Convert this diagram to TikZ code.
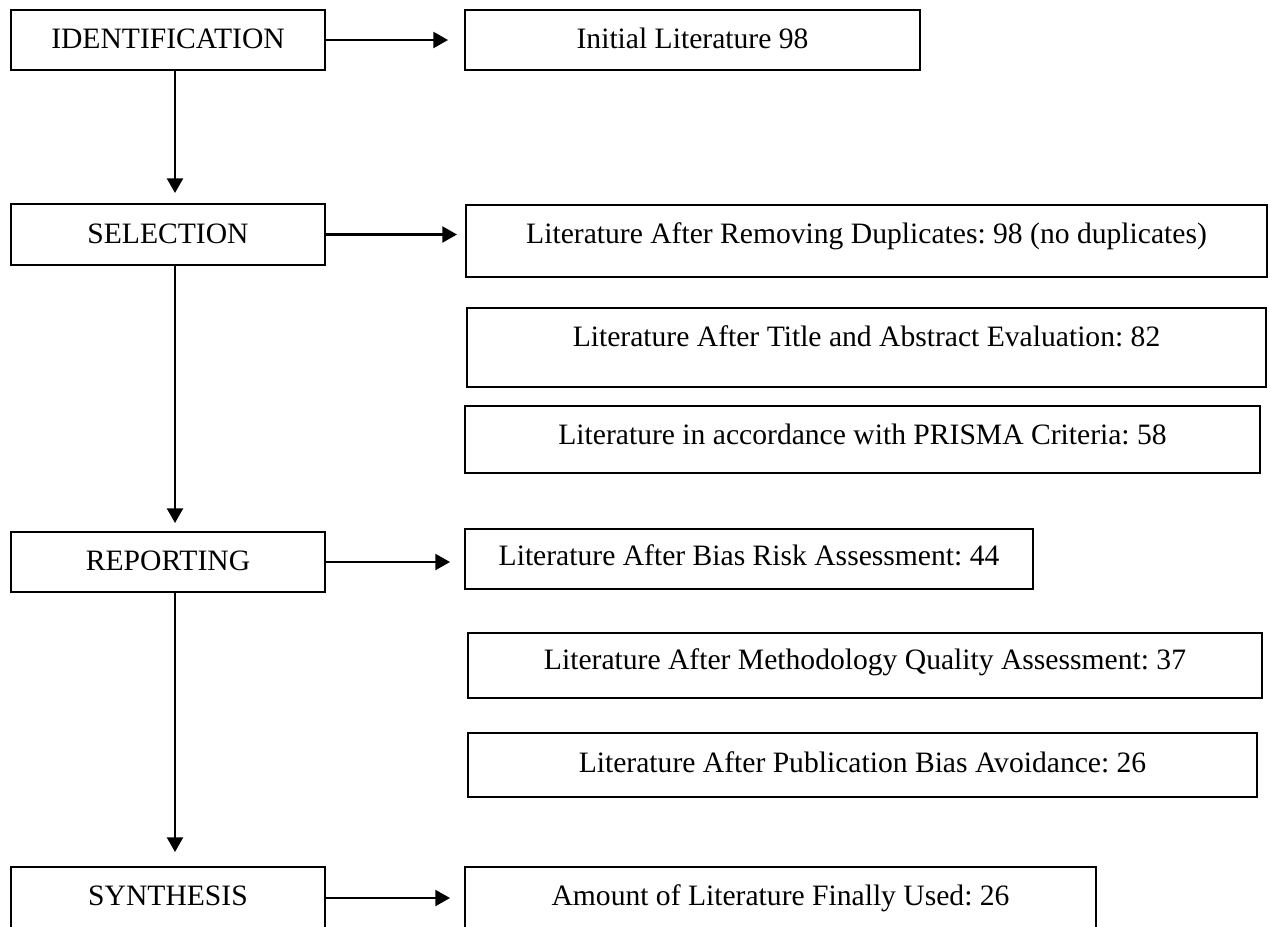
\documentclass[tikz,border=0pt]{standalone}
\usepackage{fontspec}
\setmainfont{Liberation Serif}
\usetikzlibrary{arrows.meta}
\frenchspacing
\tikzset{
  box/.style={draw=black, line width=1.9pt, inner sep=0pt, outer sep=0pt, anchor=base,
    font=\fontsize{22.2pt}{26pt}\selectfont, align=center},
  arr/.style={draw=black, line width=1.7pt, -{Triangle[length=11pt,width=12pt]}}
}
\begin{document}
\begin{tikzpicture}[x=0.75pt, y=-0.75pt]
\useasboundingbox (0,0) rectangle (1270,926);
\clip (0,0) rectangle (1270,926);
\coordinate (vx) at (175,0);
% left column
\node[box, minimum width=235.5pt, text height=28.5pt, text depth=16.5pt] (ID) at (168,48) {IDENTIFICATION};
\node[box, minimum width=235.5pt, text height=29.25pt, text depth=16.5pt] (SEL) at (168,243) {SELECTION};
\node[box, minimum width=235.5pt, text height=28.5pt, text depth=16.5pt] (REP) at (168,570) {REPORTING};
\node[box, minimum width=235.5pt, text height=28.5pt, text depth=18pt] (SYN) at (168,905) {SYNTHESIS};
% right column
\node[box, minimum width=341.25pt, text height=28.5pt, text depth=16.5pt] (INIT) at (692.5,48) {Initial Literature 98};
\node[box, minimum width=600.75pt, text height=28.5pt, text depth=25.5pt] (DUP) at (866.5,243) {Literature After Removing Duplicates: 98 (no duplicates)};
\node[box, minimum width=599.25pt, text height=28.5pt, text depth=30.75pt] (TITLE) at (866.5,346) {Literature After Title and Abstract Evaluation: 82};
\node[box, minimum width=596.25pt, text height=28.5pt, text depth=21.75pt] (PRISMA) at (862.5,444) {Literature in accordance with PRISMA Criteria: 58};
\node[box, minimum width=426pt, text height=27pt, text depth=18pt] (BIAS) at (749,565) {Literature After Bias Risk Assessment: 44};
\node[box, minimum width=595.5pt, text height=27pt, text depth=21.75pt] (METH) at (865,669) {Literature After Methodology Quality Assessment: 37};
\node[box, minimum width=591.75pt, text height=29.25pt, text depth=18.75pt] (PUB) at (862.5,772) {Literature After Publication Bias Avoidance: 26};
\node[box, minimum width=473.25pt, text height=28.5pt, text depth=18pt] (AMT) at (780.5,905) {Amount of Literature Finally Used: 26};
% vertical arrows
\draw[arr, shorten >=8.25pt] (ID.south -| vx) -- (SEL.north -| vx);
\draw[arr, shorten >=6.75pt] (SEL.south -| vx) -- (REP.north -| vx);
\draw[arr, shorten >=11.25pt] (REP.south -| vx) -- (SYN.north -| vx);
% horizontal arrows
\draw[arr, shorten >=12.75pt] (ID.east) -- (ID.east -| INIT.west);
\draw[arr, shorten >=6.75pt] (SEL.east) -- (SEL.east -| DUP.west);
\draw[arr, shorten >=11.25pt] (REP.east) -- (REP.east -| BIAS.west);
\draw[arr, shorten >=11.25pt] (SYN.east) -- (SYN.east -| AMT.west);
\end{tikzpicture}
\end{document}
